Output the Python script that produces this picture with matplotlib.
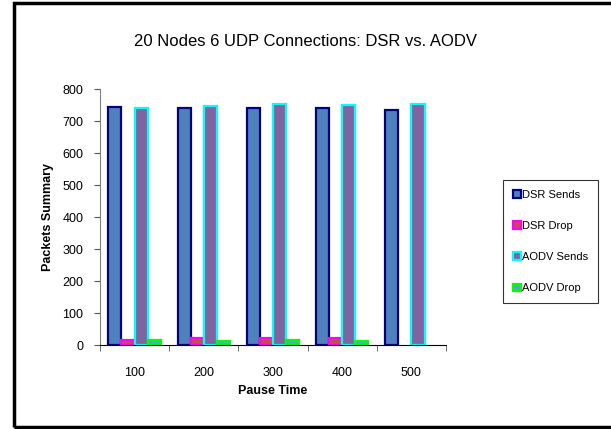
import matplotlib
matplotlib.use("Agg")
import matplotlib.pyplot as plt
import numpy as np
from matplotlib.patches import Rectangle

pause_times = ["100", "200", "300", "400", "500"]
dsr_sends = [745, 740, 740, 740, 733]
dsr_drop = [16, 23, 23, 22, 0]
aodv_sends = [742, 748, 752, 750, 752]
aodv_drop = [15, 12, 15, 12, 0]

series = [
    ("DSR Sends", dsr_sends, "#4F81BD", "#000080"),
    ("DSR Drop", dsr_drop, "#C0504D", "#FF00FF"),
    ("AODV Sends", aodv_sends, "#8064A2", "#00FFFF"),
    ("AODV Drop", aodv_drop, "#4BACC6", "#00FF00"),
]

plt.rcParams["font.family"] = ["Liberation Sans", "DejaVu Sans"]

fig = plt.figure(figsize=(6.11, 4.29), dpi=100)
ax = fig.add_axes([100 / 611, 1 - 345 / 429, 346 / 611, 256 / 429])

# outer chart frame (right edge falls outside the image)
fig.patches.append(Rectangle((14 / 611, 1 - 427 / 429), 1.0, 424 / 429,
                             transform=fig.transFigure, fill=False,
                             edgecolor="black", linewidth=2.5))

x = np.arange(len(pause_times))
w = 0.19
handles = []
for i, (label, vals, fc, ec) in enumerate(series):
    bars = ax.bar(x + (i - 1.5) * w, vals, w, color=fc, edgecolor=ec,
                  linewidth=1.6, label=label)
    # empty values draw nothing, not a flat outline
    for b, v in zip(bars, vals):
        if v == 0:
            b.set_visible(False)
    handles.append(bars)

ax.set_xlim(-0.5, len(pause_times) - 0.5)
ax.set_ylim(0, 800)
ax.set_yticks(range(0, 801, 100))
ax.set_xticks(x)
ax.set_xticklabels(pause_times, fontsize=9)
ax.set_xticks(np.arange(-0.5, len(pause_times)), minor=True)
ax.tick_params(axis="x", which="major", length=0, pad=16)
ax.tick_params(axis="x", which="minor", length=4, direction="out", color="#555555")
ax.tick_params(axis="y", labelsize=9, length=4, pad=8, color="#555555")

for side in ["top", "right"]:
    ax.spines[side].set_visible(False)
ax.spines["left"].set_color("#808080")
ax.spines["bottom"].set_color("black")

ax.set_xlabel("Pause Time", fontsize=9, fontweight="bold", labelpad=4)
ax.set_ylabel("Packets Summary", fontsize=9, fontweight="bold", labelpad=6)
fig.text(305 / 611, 1 - 42 / 429, "20 Nodes 6 UDP Connections: DSR vs. AODV",
         ha="center", va="center", fontsize=12)

leg = fig.legend(handles=handles, loc="upper left",
                 bbox_to_anchor=(503 / 611, 1 - 180 / 429),
                 fontsize=8, frameon=True, fancybox=False, borderpad=0.9,
                 labelspacing=1.9, handlelength=0.7, handleheight=0.7,
                 handletextpad=0.1, borderaxespad=0)
leg.get_frame().set_edgecolor("black")
leg.get_frame().set_linewidth(0.8)

fig.savefig("out.png", dpi=100)
